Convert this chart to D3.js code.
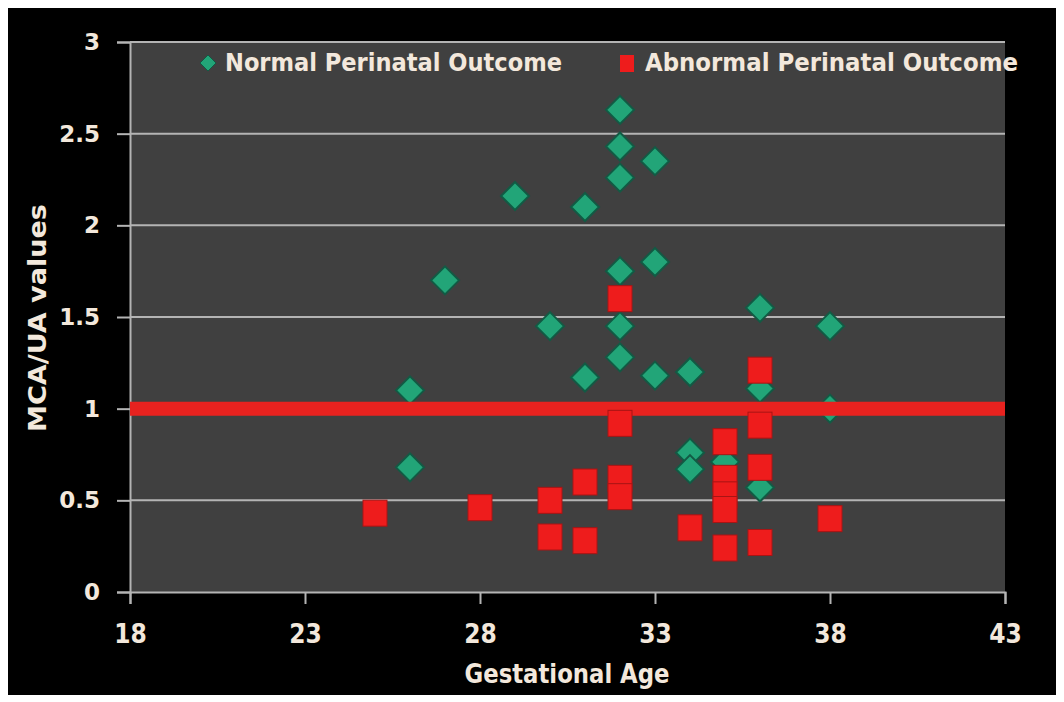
<!DOCTYPE html>
<html>
<head>
<meta charset="utf-8">
<script src="https://cdn.jsdelivr.net/npm/d3@7"></script>
<style>
  body { margin: 0; background: #ffffff; }
  text { font-family: "DejaVu Sans Condensed", "DejaVu Sans", sans-serif; font-weight: bold; fill: #f3e8dc; }
</style>
</head>
<body>
<svg id="chart"></svg>
<script>
// Normal perinatal outcome (green diamonds)
let normalAge = [32, 32, 32, 33, 29, 31, 27, 33, 32, 30, 32, 36, 38, 32, 31, 33, 34, 26, 36, 38, 26, 34, 34, 35, 36]
let normalRatio = [2.63, 2.43, 2.26, 2.35, 2.16, 2.10, 1.70, 1.80, 1.75, 1.45, 1.45, 1.55, 1.45, 1.28, 1.17, 1.18, 1.20, 1.10, 1.11, 1.00, 0.68, 0.76, 0.67, 0.71, 0.57]

// Abnormal perinatal outcome (red squares)
let abnormalAge = [25, 28, 30, 30, 31, 31, 32, 32, 32, 32, 34, 35, 35, 35, 35, 35, 36, 36, 36, 36, 38]
let abnormalRatio = [0.43, 0.46, 0.50, 0.30, 0.60, 0.28, 1.60, 0.92, 0.62, 0.52, 0.35, 0.82, 0.62, 0.53, 0.45, 0.24, 1.21, 0.91, 0.68, 0.27, 0.40]

let xTicks = [18, 23, 28, 33, 38, 43]
let yTicks = [0, 0.5, 1, 1.5, 2, 2.5, 3]
let cutoff = 1

let svg = d3.select("#chart")
let W = 1064, H = 702
svg.attr("width", W).attr("height", H)

// white frame + black card
svg.append("rect").attr("width", W).attr("height", H).attr("fill", "#fff")
svg.append("rect").attr("x", 8).attr("y", 8).attr("width", 1048).attr("height", 687).attr("fill", "#000")

let x = d3.scaleLinear().domain([18, 43]).range([130, 1005])
let y = d3.scaleLinear().domain([0, 3]).range([592, 42])

// plot area
svg.append("rect")
    .attr("x", x(18)).attr("y", y(3))
    .attr("width", x(43) - x(18)).attr("height", y(0) - y(3))
    .attr("fill", "#404040")

// gridlines
svg.append("g").selectAll("line")
    .data(yTicks.filter(d => d > 0))
    .join("line")
    .attr("x1", x(18)).attr("x2", x(43))
    .attr("y1", d => y(d)).attr("y2", d => y(d))
    .attr("stroke", "#b4b4b4").attr("stroke-width", 2)

// y axis
let yAxis = d3.axisLeft(y).tickValues(yTicks).tickSize(13).tickPadding(17).tickFormat(d3.format(""))
let gy = svg.append("g").attr("transform", "translate(" + x(18) + ",0)").call(yAxis)
gy.select(".domain").attr("stroke", "#b4b4b4").attr("stroke-width", 2)
gy.selectAll(".tick line").attr("stroke", "#b4b4b4").attr("stroke-width", 2)
gy.selectAll(".tick text").style("font-size", "23px").style("font-family", "'DejaVu Sans', sans-serif").style("fill", "#f3e8dc")

// x axis
let xAxis = d3.axisBottom(x).tickValues(xTicks).tickSize(12)
let gx = svg.append("g").attr("transform", "translate(0," + y(0) + ")").call(xAxis)
gx.select(".domain").attr("stroke", "#b4b4b4").attr("stroke-width", 2)
gx.selectAll(".tick line").attr("stroke", "#b4b4b4").attr("stroke-width", 2)
gx.selectAll(".tick text").attr("y", 51).attr("dy", null)
    .style("font-size", "26px").style("fill", "#f3e8dc")

// axis titles
svg.append("text")
    .attr("x", 567).attr("y", 683)
    .attr("text-anchor", "middle")
    .attr("textLength", 205).attr("lengthAdjust", "spacingAndGlyphs")
    .style("font-size", "27px")
    .text("Gestational Age")

svg.append("text")
    .attr("transform", "translate(46,318) rotate(-90)")
    .attr("text-anchor", "middle")
    .attr("textLength", 228).attr("lengthAdjust", "spacingAndGlyphs")
    .style("font-size", "25px")
    .text("MCA/UA values")

let diamond = s => "M0," + (-s) + "L" + s + ",0L0," + s + "L" + (-s) + ",0Z"

let normal = normalAge.map((a, i) => ({age: a, v: normalRatio[i]}))
let abnormal = abnormalAge.map((a, i) => ({age: a, v: abnormalRatio[i]}))

// green diamonds
svg.append("g").selectAll("path")
    .data(normal)
    .join("path")
    .attr("d", diamond(14))
    .attr("transform", d => "translate(" + x(d.age) + "," + y(d.v) + ")")
    .attr("fill", "#22a578")
    .attr("stroke", "#125a44")
    .attr("stroke-width", 2)

// cutoff line
svg.append("line")
    .attr("x1", x(18)).attr("x2", x(43))
    .attr("y1", y(cutoff)).attr("y2", y(cutoff))
    .attr("stroke", "#e8221f").attr("stroke-width", 14)

// red squares
svg.append("g").selectAll("rect")
    .data(abnormal)
    .join("rect")
    .attr("x", d => x(d.age) - 12)
    .attr("y", d => y(d.v) - 13)
    .attr("width", 24).attr("height", 26)
    .attr("fill", "#ee1c1c")
    .attr("stroke", "#a81414")
    .attr("stroke-width", 1)

// legend
let leg = svg.append("g")
leg.append("path").attr("d", diamond(8)).attr("transform", "translate(208,63)")
    .attr("fill", "#22a578").attr("stroke", "#125a44")
leg.append("text").attr("x", 225).attr("y", 71).style("font-size", "25px")
    .attr("textLength", 337).attr("lengthAdjust", "spacingAndGlyphs")
    .text("Normal Perinatal Outcome")
leg.append("rect").attr("x", 620).attr("y", 55).attr("width", 14).attr("height", 17)
    .attr("fill", "#ee1c1c")
leg.append("text").attr("x", 645).attr("y", 71).style("font-size", "25px")
    .attr("textLength", 373).attr("lengthAdjust", "spacingAndGlyphs")
    .text("Abnormal Perinatal Outcome")
</script>
</body>
</html>
